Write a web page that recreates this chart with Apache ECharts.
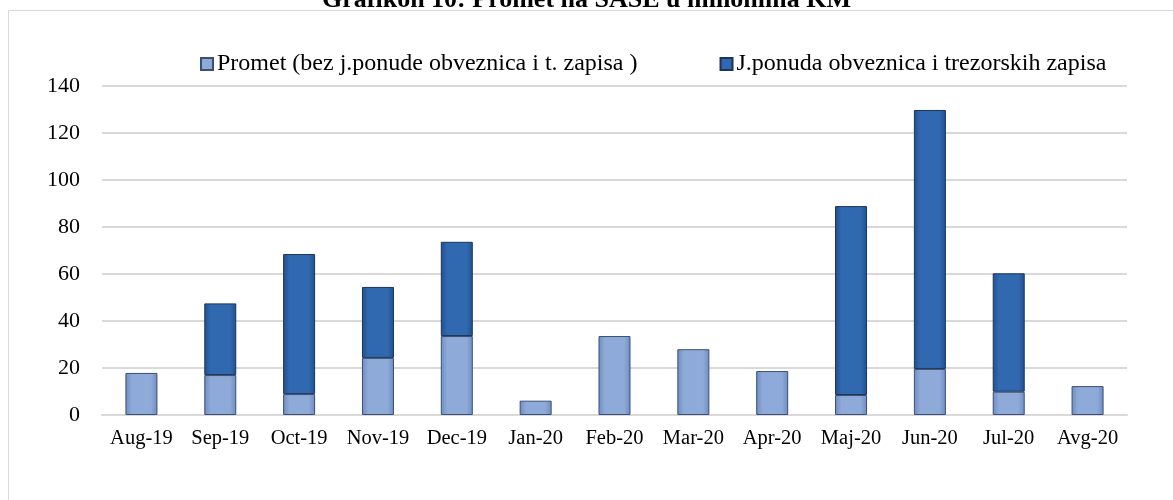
<!DOCTYPE html>
<html>
<head>
<meta charset="utf-8">
<script src="https://cdn.jsdelivr.net/npm/echarts@6/dist/echarts.min.js"></script>
<style>
  html, body { margin: 0; padding: 0; background: #fff; }
  #main { width: 1173px; height: 500px; }
</style>
</head>
<body>
<div id="main"></div>
<script>
var months = ['Aug-19', 'Sep-19', 'Oct-19', 'Nov-19', 'Dec-19', 'Jan-20', 'Feb-20',
  'Mar-20', 'Apr-20', 'Maj-20', 'Jun-20', 'Jul-20', 'Avg-20'];
// Promet (bez j.ponude obveznica i t. zapisa)
var promet = [17.9, 17, 8.9, 24.3, 33.6, 6.1, 33.6, 28, 18.7, 8.5, 19.6, 9.9, 12.3];
// J.ponuda obveznica i trezorskih zapisa
var jponuda = ['-', 30.5, 59.6, 30.2, 40.1, '-', '-', '-', '-', 80.4, 110.2, 50.4, '-'];
var yTicks = [0, 20, 40, 60, 80, 100, 120, 140];

var font = '"Liberation Serif", "Times New Roman", serif';

function barGrad(edge, mid) {
  return new echarts.graphic.LinearGradient(0, 0, 1, 0, [
    { offset: 0, color: edge },
    { offset: 0.2, color: mid },
    { offset: 0.8, color: mid },
    { offset: 1, color: edge }
  ]);
}

var chart = echarts.init(document.getElementById('main'));
chart.setOption({
  animation: false,
  title: {
    text: 'Grafikon 10: Promet na SASE u milionima KM',
    left: 'center',
    top: -18,
    textStyle: { fontFamily: font, fontSize: 26, fontWeight: 'bold', color: '#000' }
  },
  graphic: [{
    type: 'rect',
    shape: { x: 8.5, y: 10.5, width: 1180, height: 500 },
    style: { fill: 'none', stroke: '#d9d9d9', lineWidth: 1 },
    silent: true
  }],
  legend: {
    top: 47,
    left: 195,
    itemGap: 82,
    itemWidth: 12,
    itemHeight: 12,
    icon: 'rect',
    textStyle: { fontFamily: font, fontSize: 24, color: '#000', padding: [0, 0, 0, -1] },
    data: ['Promet (bez j.ponude obveznica i t. zapisa )', 'J.ponuda obveznica i trezorskih zapisa']
  },
  grid: { left: 102, right: 46, top: 86, bottom: 85, containLabel: false },
  xAxis: {
    type: 'category',
    data: months,
    axisLine: { lineStyle: { color: '#d9d9d9', width: 2 } },
    axisTick: { show: false },
    axisLabel: { interval: 0, fontFamily: font, fontSize: 20.5, color: '#000', margin: 13 }
  },
  yAxis: {
    type: 'value',
    min: yTicks[0],
    max: yTicks[yTicks.length - 1],
    interval: 20,
    axisLine: { show: false },
    axisTick: { show: false },
    axisLabel: { fontFamily: font, fontSize: 22, color: '#000', margin: 22 },
    splitLine: { lineStyle: { color: '#d9d9d9', width: 2 } }
  },
  series: [{
    name: 'Promet (bez j.ponude obveznica i t. zapisa )',
    type: 'bar',
    stack: 'total',
    barWidth: 32,
    data: promet,
    itemStyle: {
      color: barGrad('#6f8cc2', '#8eaad8'),
      borderColor: '#3b4f72',
      borderWidth: 1
    }
  }, {
    name: 'J.ponuda obveznica i trezorskih zapisa',
    type: 'bar',
    stack: 'total',
    barWidth: 32,
    data: jponuda,
    itemStyle: {
      color: barGrad('#21508d', '#3169b0'),
      borderColor: '#1c3558',
      borderWidth: 1
    }
  }]
});
</script>
</body>
</html>
